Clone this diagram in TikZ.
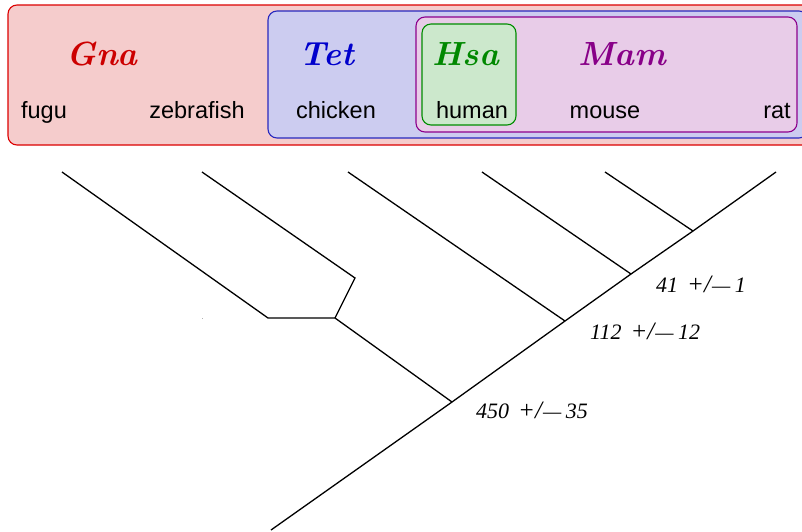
\documentclass[tikz,border=0pt]{standalone}
\usepackage{fontspec}
\setmainfont{Liberation Serif}
\setsansfont{Liberation Sans}
\newfontfamily\cladefont{Latin Modern Roman}

\definecolor{gnaFill}{RGB}{245,204,204}
\definecolor{gnaLine}{RGB}{220,0,0}
\definecolor{gnaText}{RGB}{204,0,0}
\definecolor{tetFill}{RGB}{204,204,240}
\definecolor{tetLine}{RGB}{40,40,190}
\definecolor{tetText}{RGB}{0,0,204}
\definecolor{mamFill}{RGB}{232,204,232}
\definecolor{mamLine}{RGB}{140,0,140}
\definecolor{mamText}{RGB}{136,0,136}
\definecolor{hsaFill}{RGB}{204,232,204}
\definecolor{hsaLine}{RGB}{0,140,0}
\definecolor{hsaText}{RGB}{0,136,0}

\tikzset{
  clade/.style={rounded corners=9pt, line width=1.1pt},
  cladename/.style={anchor=base, inner sep=0pt, font=\cladefont\bfseries\itshape\fontsize{33.5}{38}\selectfont},
  species/.style={anchor=base, inner sep=0pt, font=\sffamily\fontsize{23.5}{26}\selectfont},
  age/.style={anchor=base west, inner sep=0pt, font=\itshape\fontsize{22}{25}\selectfont},
  branch/.style={line width=1.3pt, line join=miter},
}
% divergence time with its error: value +/— error
\newcommand{\agetext}[2]{#1\hspace{9pt}{\fontsize{25}{25}\selectfont+/}\kern1pt{\fontsize{20.5}{25}\selectfont—}\hspace{4.5pt}#2}

\begin{document}
\begin{tikzpicture}[x=1pt, y=-1pt]
\useasboundingbox (0,0) rectangle (802,531);

% nested clade boxes
\draw[clade, draw=gnaLine, fill=gnaFill] (8,5) rectangle (815,145);
\draw[clade, draw=tetLine, fill=tetFill] (268,11) rectangle (808,138);
\draw[clade, draw=mamLine, fill=mamFill] (416,17) rectangle (797,132);
\draw[clade, draw=hsaLine, fill=hsaFill] (422,24) rectangle (516,125);

% clade names
\node[cladename, text=gnaText] (gna) at (102,65) {Gna};
\node[cladename, text=tetText] (tet) at (327,65) {Tet};
\node[cladename, text=hsaText] (hsa) at (466,65) {Hsa};
\node[cladename, text=mamText] (mam) at (622,65) {Mam};

% species names
\node[species] (fugu) at (44,118) {fugu};
\node[species] (zebrafish) at (197,118) {zebrafish};
\node[species] (chicken) at (336,118) {chicken};
\node[species] (human) at (472,118) {human};
\node[species] (mouse) at (605,118) {mouse};
\node[species] (rat) at (777,118) {rat};

% leaf tips
\coordinate (tFugu) at (62,172);
\coordinate (tZebra) at (202,172);
\coordinate (tChicken) at (348,172);
\coordinate (tHuman) at (482,172);
\coordinate (tMouse) at (605,172);
\coordinate (tRat) at (776,172);

% internal nodes
\coordinate (root) at (271,530);
\coordinate (nVert) at (452,402);
\coordinate (nAmn) at (565,321);
\coordinate (nMam) at (631,274);
\coordinate (nRod) at (693,231);
\coordinate (nFish) at (335,318);
\coordinate (nFishL) at (268,318);
\coordinate (nZebra) at (355,278);

% tree
\draw[branch] (root) -- (nVert) -- (nAmn) -- (nMam) -- (nRod) -- (tRat);
\draw[branch] (tMouse) -- (nRod);
\draw[branch] (tHuman) -- (nMam);
\draw[branch] (tChicken) -- (nAmn);
\draw[branch] (nVert) -- (nFish) -- (nFishL) -- (tFugu);
\draw[branch] (nFish) -- (nZebra) -- (tZebra);

% divergence times
\node[age] (a41) at (656,292) {\agetext{41}{1}};
\node[age] (a112) at (590,339) {\agetext{112}{12}};
\node[age] (a450) at (476,418) {\agetext{450}{35}};

% stray speck
\fill[gray!60] (201.5,317.5) rectangle (203,318.5);
\end{tikzpicture}
\end{document}
